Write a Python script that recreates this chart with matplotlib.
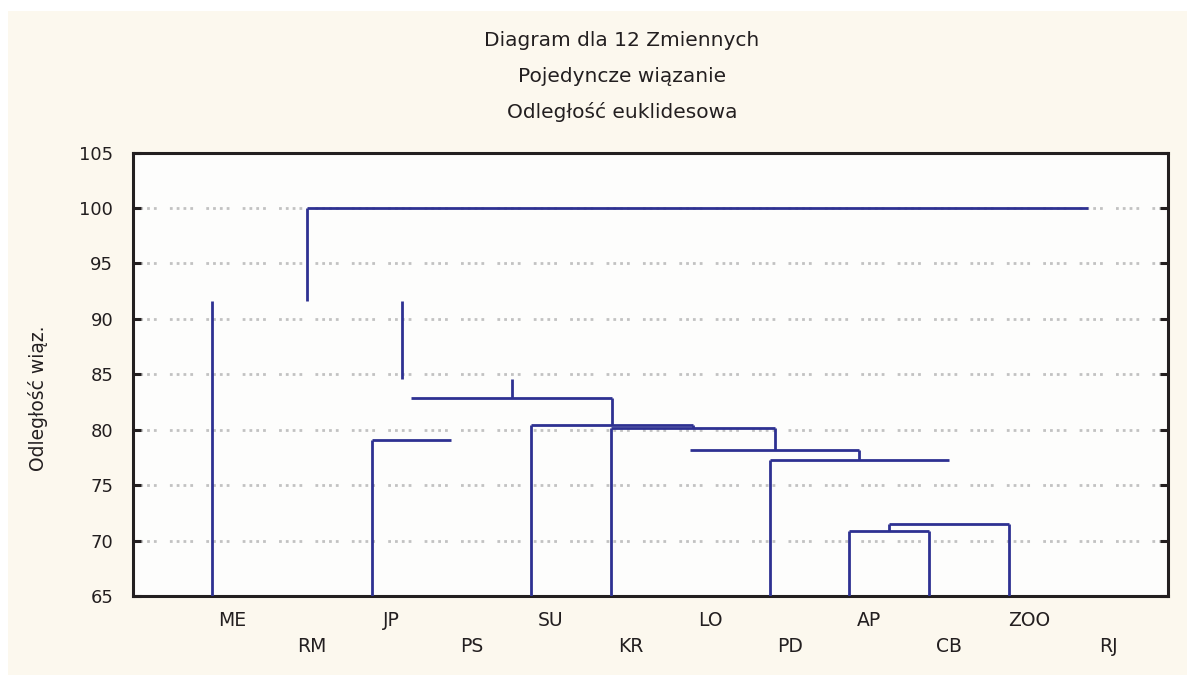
import matplotlib
matplotlib.use("Agg")
import matplotlib.pyplot as plt
from matplotlib.patches import Rectangle
from matplotlib.transforms import offset_copy, blended_transform_factory

# --- data ---------------------------------------------------------------
leaf_labels = ["ME", "RM", "JP", "PS", "SU", "KR", "LO", "PD", "AP", "CB", "ZOO", "RJ"]

# linkage steps: (left node, right node, linkage distance); new nodes get ids 12, 13, ...
merge_left = [8, 12, 7, 6, 2, 5, 4, 16, 1, 0, 21]
merge_right = [9, 10, 13, 14, 3, 15, 17, 18, 19, 20, 11]
merge_height = [70.9, 71.5, 77.25, 78.15, 79.05, 80.2, 80.45, 82.9, 84.6, 91.6, 100.0]

# which strokes of each link are drawn: (left stem, right stem, crossbar)
link_strokes = [
    (1, 1, 1), (1, 1, 1), (1, 0, 1), (0, 1, 1), (1, 0, 1), (1, 1, 1),
    (1, 1, 1), (0, 1, 1), (0, 1, 0), (1, 1, 0), (1, 0, 1),
]

y_ticks = [65, 70, 75, 80, 85, 90, 95, 100, 105]

title_lines = ["Diagram dla 12 Zmiennych", "Pojedyncze wiązanie", "Odległość euklidesowa"]
y_title = "Odległość wiąz."

# --- style --------------------------------------------------------------
W, H = 1187, 675
cream = "#FCF8EE"
ink = "#231F20"
tree_col = "#2E3192"
grid_col = "#C2C2C2"

plt.rcParams["font.family"] = ["DejaVu Sans"]
plt.rcParams["lines.scale_dashes"] = False

fig = plt.figure(figsize=(W / 100, H / 100), dpi=100, facecolor="white")
fig.patches.append(Rectangle((8 / W, -0.01), 1.02 - 8 / W, 1.01 - 11 / H, transform=fig.transFigure,
                             facecolor=cream, edgecolor="none", zorder=-10))

ax = fig.add_axes([132.7 / W, 1 - 596 / H, (1168 - 132.7) / W, (596 - 152.6) / H])
ax.set_facecolor("#FDFDFC")
ax.set_xlim(-1, 12)
ax.set_ylim(65, 105)

# dotted horizontal grid
for v in y_ticks[1:-1]:
    ax.axhline(v, color=grid_col, lw=2.0, zorder=1,
               dashes=(2, 2.9, 2, 2.9, 2, 2.9, 2, 9.5))

# dendrogram links
pos = {i: float(i) for i in range(len(leaf_labels))}
top = {i: 65.0 for i in range(len(leaf_labels))}
line_kw = dict(color=tree_col, lw=2.0, solid_capstyle="butt", zorder=3)
for k, (a, b, h) in enumerate(zip(merge_left, merge_right, merge_height)):
    sa, sb, sh = link_strokes[k]
    if sa:
        ax.plot([pos[a], pos[a]], [top[a], h], **line_kw)
    if sb:
        ax.plot([pos[b], pos[b]], [top[b], h], **line_kw)
    if sh:
        ax.plot([pos[a], pos[b]], [h, h], **line_kw)
    node = len(leaf_labels) + k
    pos[node] = (pos[a] + pos[b]) / 2
    top[node] = h

# axes frame and ticks
for s in ax.spines.values():
    s.set_color(ink)
    s.set_linewidth(2.2)
ax.set_xticks([])
ax.set_yticks(y_ticks)
ax.set_yticklabels([str(v) for v in y_ticks])
ax.tick_params(axis="y", direction="in", length=6, width=2.2, color=ink,
               right=True, labelsize=13, labelcolor=ink, pad=14)

# leaf labels, alternating in two rows
trans = blended_transform_factory(ax.transData, fig.transFigure)
trans = offset_copy(trans, fig=fig, x=20, y=0, units="dots")
for i, lab in enumerate(leaf_labels):
    yrow = 620 if i % 2 == 0 else 646
    ax.text(i, 1 - yrow / H, lab, transform=trans, ha="center", va="center",
            fontsize=13.5, color=ink, clip_on=False)

# titles
for t, yc in zip(title_lines, [41, 76, 112]):
    fig.text(622 / W, 1 - yc / H, t, ha="center", va="center", fontsize=14.5, color=ink)

fig.text(38 / W, 1 - 398 / H, y_title, rotation=90, ha="center", va="center",
         fontsize=13.5, color=ink)

fig.savefig("out.png", dpi=100, facecolor=fig.get_facecolor())
